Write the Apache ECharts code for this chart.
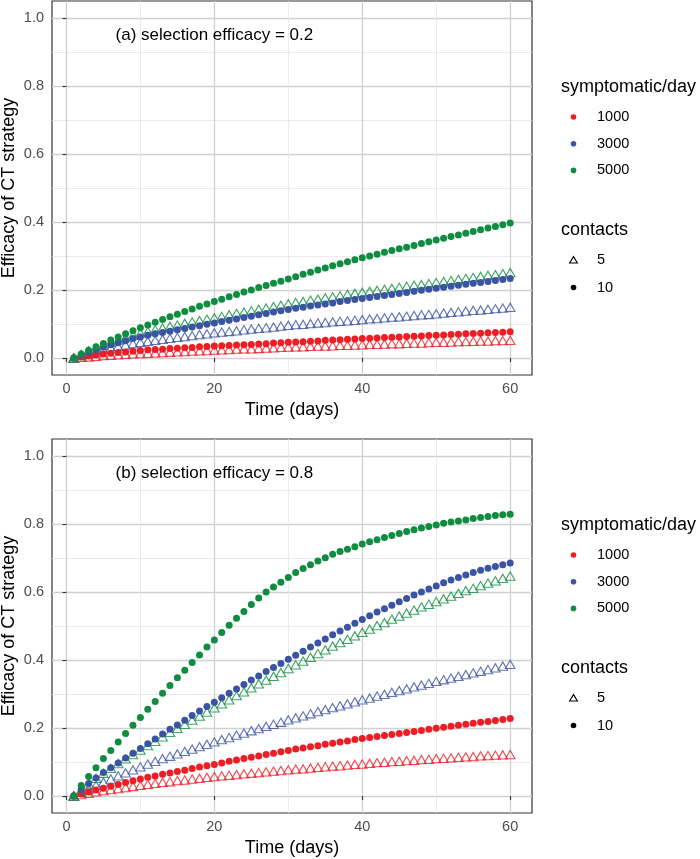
<!DOCTYPE html>
<html>
<head>
<meta charset="utf-8">
<script src="https://cdn.jsdelivr.net/npm/echarts@6/dist/echarts.min.js"></script>
<style>
html,body{margin:0;padding:0;background:#fff;}
#chart{width:700px;height:859px;}
</style>
</head>
<body>
<div id="chart"></div>
<script>
// ---- data ----
const days = [1,2,3,4,5,6,7,8,9,10,11,12,13,14,15,16,17,18,19,20,21,22,23,24,25,26,27,28,29,30,31,32,33,34,35,36,37,38,39,40,41,42,43,44,45,46,47,48,49,50,51,52,53,54,55,56,57,58,59,60];

const symptomaticLevels = ['1000', '3000', '5000'];
const contactLevels = ['5', '10'];
const panelLabels = ['(a) selection efficacy = 0.2', '(b) selection efficacy = 0.8'];
const panelLabelX = [20, 20];
const panelLabelY = [0.95, 0.95];

const xMajorTicks = [0, 20, 40, 60];
const xMinorTicks = [10, 30, 50];
const yMajorTicks = [0, 0.2, 0.4, 0.6, 0.8, 1.0];
const yMinorTicks = [0.1, 0.3, 0.5, 0.7, 0.9];

// panel (a): selection efficacy 0.2
const aRed5 = [0.000,0.002,0.003,0.005,0.007,0.008,0.009,0.011,0.012,0.013,0.014,0.015,0.016,0.017,0.018,0.019,0.020,0.021,0.022,0.023,0.024,0.025,0.026,0.027,0.027,0.028,0.029,0.030,0.031,0.032,0.033,0.033,0.034,0.035,0.035,0.036,0.037,0.037,0.038,0.039,0.040,0.040,0.041,0.042,0.042,0.043,0.044,0.044,0.045,0.046,0.046,0.047,0.048,0.048,0.049,0.050,0.050,0.051,0.051,0.052];
const aRed10 = [0.000,0.003,0.006,0.009,0.012,0.014,0.016,0.018,0.020,0.022,0.024,0.025,0.026,0.028,0.029,0.030,0.031,0.033,0.034,0.035,0.036,0.037,0.038,0.039,0.040,0.041,0.042,0.044,0.045,0.046,0.047,0.048,0.049,0.050,0.052,0.053,0.054,0.055,0.056,0.057,0.058,0.059,0.060,0.061,0.062,0.063,0.064,0.065,0.066,0.067,0.068,0.069,0.070,0.071,0.072,0.073,0.074,0.075,0.076,0.077];
const aBlue5 = [0.000,0.007,0.013,0.019,0.024,0.029,0.034,0.038,0.042,0.046,0.049,0.052,0.055,0.058,0.061,0.063,0.066,0.069,0.071,0.074,0.076,0.078,0.080,0.083,0.085,0.087,0.089,0.091,0.094,0.096,0.098,0.099,0.101,0.103,0.104,0.106,0.108,0.109,0.111,0.113,0.115,0.116,0.118,0.120,0.121,0.123,0.125,0.127,0.128,0.130,0.132,0.134,0.136,0.138,0.140,0.141,0.143,0.145,0.147,0.149];
const aBlue10 = [0.000,0.009,0.017,0.025,0.032,0.039,0.045,0.051,0.057,0.062,0.067,0.071,0.075,0.079,0.083,0.087,0.091,0.095,0.099,0.103,0.107,0.111,0.115,0.119,0.123,0.127,0.131,0.135,0.139,0.143,0.146,0.149,0.153,0.156,0.159,0.162,0.166,0.169,0.172,0.175,0.178,0.181,0.184,0.187,0.190,0.193,0.196,0.199,0.202,0.205,0.208,0.211,0.214,0.217,0.220,0.222,0.225,0.228,0.231,0.234];
const aGreen5 = [0.000,0.011,0.021,0.030,0.038,0.046,0.053,0.060,0.067,0.073,0.078,0.083,0.088,0.093,0.097,0.102,0.106,0.110,0.114,0.118,0.122,0.127,0.131,0.135,0.139,0.143,0.147,0.151,0.155,0.159,0.163,0.166,0.170,0.173,0.177,0.180,0.183,0.187,0.190,0.193,0.196,0.199,0.202,0.205,0.208,0.211,0.214,0.216,0.219,0.222,0.225,0.228,0.231,0.234,0.237,0.240,0.243,0.245,0.248,0.251];
const aGreen10 = [0.000,0.012,0.023,0.033,0.043,0.053,0.062,0.071,0.080,0.089,0.097,0.105,0.113,0.121,0.129,0.137,0.144,0.152,0.159,0.166,0.173,0.180,0.187,0.194,0.200,0.207,0.213,0.220,0.226,0.232,0.239,0.246,0.252,0.259,0.265,0.271,0.277,0.283,0.289,0.295,0.300,0.305,0.311,0.316,0.321,0.326,0.331,0.337,0.342,0.347,0.352,0.357,0.362,0.367,0.372,0.377,0.382,0.387,0.392,0.397];

// panel (b): selection efficacy 0.8
const bRed5 = [0.000,0.004,0.008,0.012,0.016,0.019,0.022,0.025,0.028,0.031,0.034,0.037,0.040,0.042,0.045,0.047,0.050,0.052,0.055,0.057,0.059,0.061,0.063,0.065,0.067,0.069,0.071,0.073,0.075,0.077,0.079,0.080,0.082,0.084,0.086,0.088,0.089,0.091,0.093,0.094,0.096,0.098,0.099,0.101,0.102,0.104,0.105,0.107,0.108,0.110,0.111,0.112,0.114,0.115,0.116,0.118,0.119,0.120,0.121,0.122];
const bRed10 = [0.000,0.006,0.012,0.018,0.023,0.029,0.034,0.040,0.045,0.050,0.055,0.059,0.064,0.068,0.072,0.076,0.081,0.085,0.089,0.093,0.097,0.102,0.106,0.110,0.114,0.118,0.122,0.126,0.130,0.134,0.138,0.141,0.145,0.148,0.152,0.155,0.159,0.162,0.166,0.169,0.172,0.175,0.178,0.181,0.184,0.187,0.190,0.193,0.196,0.199,0.202,0.205,0.208,0.211,0.214,0.217,0.219,0.222,0.225,0.228];
const bBlue5 = [0.000,0.011,0.021,0.031,0.041,0.050,0.059,0.068,0.077,0.086,0.094,0.102,0.110,0.117,0.124,0.131,0.138,0.145,0.152,0.159,0.166,0.172,0.179,0.185,0.192,0.198,0.205,0.211,0.217,0.224,0.230,0.236,0.242,0.248,0.254,0.260,0.265,0.271,0.277,0.283,0.288,0.294,0.299,0.305,0.310,0.315,0.321,0.326,0.331,0.337,0.342,0.347,0.352,0.357,0.362,0.367,0.372,0.377,0.382,0.387];
const bBlue10 = [0.000,0.019,0.037,0.053,0.069,0.083,0.097,0.112,0.126,0.140,0.154,0.168,0.182,0.196,0.209,0.223,0.237,0.250,0.263,0.276,0.289,0.302,0.315,0.328,0.341,0.353,0.366,0.378,0.390,0.402,0.414,0.426,0.438,0.450,0.462,0.474,0.485,0.496,0.508,0.519,0.530,0.541,0.551,0.561,0.571,0.581,0.591,0.600,0.609,0.618,0.627,0.635,0.643,0.650,0.657,0.664,0.670,0.675,0.680,0.685];
const bGreen5 = [0.000,0.018,0.036,0.052,0.067,0.081,0.095,0.109,0.122,0.135,0.148,0.161,0.174,0.187,0.199,0.211,0.223,0.235,0.247,0.259,0.271,0.283,0.295,0.306,0.318,0.330,0.341,0.352,0.363,0.375,0.386,0.397,0.408,0.419,0.430,0.441,0.451,0.461,0.471,0.481,0.491,0.501,0.510,0.520,0.529,0.538,0.547,0.556,0.564,0.572,0.580,0.588,0.596,0.604,0.611,0.619,0.626,0.633,0.640,0.647];
const bGreen10 = [0.000,0.031,0.057,0.083,0.110,0.134,0.159,0.184,0.208,0.231,0.255,0.278,0.302,0.325,0.348,0.370,0.393,0.415,0.438,0.459,0.481,0.502,0.523,0.543,0.563,0.582,0.600,0.615,0.629,0.643,0.657,0.669,0.680,0.691,0.701,0.711,0.719,0.726,0.733,0.741,0.748,0.754,0.760,0.766,0.772,0.778,0.783,0.788,0.793,0.797,0.802,0.806,0.809,0.812,0.816,0.819,0.822,0.825,0.827,0.829];

// ---- styling ----
const levelColors = ['#EE1D25', '#3A53A4', '#0E8C3F'];
const FONT = '"Liberation Sans", Arial, Helvetica, sans-serif';
const MAJOR_GRID = '#D0D0D0';
const MINOR_GRID = '#E6E6E6';

const panels = [
  { top: 1, red5: aRed5, red10: aRed10, blue5: aBlue5, blue10: aBlue10, green5: aGreen5, green10: aGreen10 },
  { top: 439, red5: bRed5, red10: bRed10, blue5: bBlue5, blue10: bBlue10, green5: bGreen5, green10: bGreen10 }
];
const PLOT_LEFT = 52, PLOT_W = 480, PLOT_H = 374;

const grids = [], xAxes = [], yAxes = [], series = [];

panels.forEach((p, pi) => {
  grids.push({ left: PLOT_LEFT, top: p.top, width: PLOT_W, height: PLOT_H,
    show: true, borderColor: '#333333', borderWidth: 1.2, backgroundColor: '#ffffff' });
  // major x axis (visible)
  xAxes.push({
    gridIndex: pi, type: 'value', min: -1.95, max: 62.95, position: 'bottom',
    axisLine: { show: false },
    axisTick: { show: true, customValues: xMajorTicks, length: 4, lineStyle: { color: '#333333', width: 1.1 } },
    axisLabel: { customValues: xMajorTicks, color: '#4D4D4D', fontSize: 14.5, fontFamily: FONT, margin: 6 },
    splitLine: { show: true, lineStyle: { color: MAJOR_GRID, width: 1.3 } },
    minorSplitLine: { show: false }
  });
  // minor x axis (grid only)
  xAxes.push({
    gridIndex: pi, type: 'value', min: -1.95, max: 62.95, position: 'top',
    axisLine: { show: false },
    axisTick: { show: false, customValues: xMinorTicks },
    axisLabel: { show: false, customValues: xMinorTicks },
    splitLine: { show: true, lineStyle: { color: MINOR_GRID, width: 0.8 } }
  });
  yAxes.push({
    gridIndex: pi, type: 'value', min: -0.05, max: 1.05, position: 'left',
    axisLine: { show: false },
    axisTick: { show: true, customValues: yMajorTicks, length: 4, lineStyle: { color: '#333333', width: 1.1 } },
    axisLabel: { customValues: yMajorTicks, color: '#4D4D4D', fontSize: 14.5, fontFamily: FONT, margin: 8,
      formatter: v => Number(v).toFixed(1) },
    splitLine: { show: true, lineStyle: { color: MAJOR_GRID, width: 1.3 } }
  });
  yAxes.push({
    gridIndex: pi, type: 'value', min: -0.05, max: 1.05, position: 'right',
    axisLine: { show: false },
    axisTick: { show: false, customValues: yMinorTicks },
    axisLabel: { show: false, customValues: yMinorTicks },
    splitLine: { show: true, lineStyle: { color: MINOR_GRID, width: 0.8 } }
  });

  const xi = pi * 2, yi = pi * 2;
  const groups = [
    [p.red5, p.red10], [p.blue5, p.blue10], [p.green5, p.green10]
  ];
  // triangles (contacts = 5) first
  groups.forEach((g, ci) => {
    series.push({
      type: 'scatter', name: symptomaticLevels[ci] + ' / ' + contactLevels[0],
      xAxisIndex: xi, yAxisIndex: yi,
      symbol: 'triangle', symbolSize: [9.6, 8.3],
      itemStyle: { color: 'rgba(0,0,0,0)', borderColor: levelColors[ci], borderWidth: 1.1 },
      emphasis: { disabled: true },
      data: days.map((d, i) => [d, g[0][i]])
    });
  });
  groups.forEach((g, ci) => {
    series.push({
      type: 'scatter', name: symptomaticLevels[ci] + ' / ' + contactLevels[1],
      xAxisIndex: xi, yAxisIndex: yi,
      symbol: 'circle', symbolSize: 7,
      itemStyle: { color: levelColors[ci], opacity: 1 },
      emphasis: { disabled: true },
      data: days.map((d, i) => [d, g[1][i]])
    });
  });
  // panel annotation
  series.push({
    type: 'scatter', xAxisIndex: xi, yAxisIndex: yi, symbolSize: 1, silent: true,
    itemStyle: { color: 'rgba(0,0,0,0)' },
    data: [[panelLabelX[pi], panelLabelY[pi]]],
    label: { show: true, position: 'inside', formatter: panelLabels[pi],
      color: '#000000', opacity: 1, textBorderWidth: 0, fontSize: 17, fontFamily: FONT }
  });
});

// legends and axis titles as graphics
const graphics = [];
panels.forEach((p, pi) => {
  const off = p.top - 1;
  graphics.push({ type: 'text', x: 292, y: 410 + off,
    style: { text: 'Time (days)', font: '18px ' + FONT, fill: '#000', textAlign: 'center', textVerticalAlign: 'middle' } });
  graphics.push({ type: 'text', x: 9, y: p.top + PLOT_H / 2, rotation: Math.PI / 2,
    style: { text: 'Efficacy of CT strategy', font: '18px ' + FONT, fill: '#000', textAlign: 'center', textVerticalAlign: 'middle' } });
  // colour legend
  graphics.push({ type: 'text', x: 561, y: 87 + off,
    style: { text: 'symptomatic/day', font: '18px ' + FONT, fill: '#000', textAlign: 'left', textVerticalAlign: 'middle' } });
  symptomaticLevels.forEach((lv, i) => {
    const y = 117 + off + i * 26.7;
    graphics.push({ type: 'circle', shape: { cx: 573.5, cy: y, r: 2.8 }, style: { fill: levelColors[i] } });
    graphics.push({ type: 'text', x: 597, y: y,
      style: { text: lv, font: '14.5px ' + FONT, fill: '#000', textAlign: 'left', textVerticalAlign: 'middle' } });
  });
  // shape legend
  graphics.push({ type: 'text', x: 561, y: 230 + off,
    style: { text: 'contacts', font: '18px ' + FONT, fill: '#000', textAlign: 'left', textVerticalAlign: 'middle' } });
  contactLevels.forEach((lv, i) => {
    const y = 260 + off + i * 27.5;
    if (i === 0) {
      graphics.push({ type: 'polygon', shape: { points: [[573.5, y - 3.4], [577.4, y + 3], [569.6, y + 3]] },
        style: { fill: 'none', stroke: '#000', lineWidth: 1.1 } });
    } else {
      graphics.push({ type: 'circle', shape: { cx: 573.5, cy: y, r: 2.8 }, style: { fill: '#000' } });
    }
    graphics.push({ type: 'text', x: 597, y: y,
      style: { text: lv, font: '14.5px ' + FONT, fill: '#000', textAlign: 'left', textVerticalAlign: 'middle' } });
  });
});

const chart = echarts.init(document.getElementById('chart'), null, { renderer: 'canvas' });
chart.setOption({
  animation: false,
  backgroundColor: '#ffffff',
  textStyle: { fontFamily: FONT },
  grid: grids,
  xAxis: xAxes,
  yAxis: yAxes,
  series: series,
  graphic: graphics
});
</script>
</body>
</html>
